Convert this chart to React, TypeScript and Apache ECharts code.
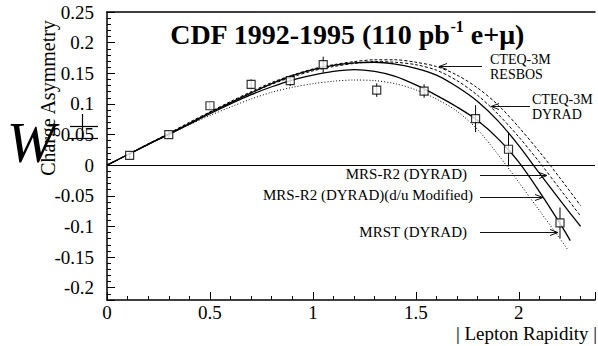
import React, { useEffect, useRef } from "react";
import * as echarts from "echarts";

const FONT = "'Liberation Serif', 'Times New Roman', Times, serif";

// measured points
const DATA_X = [0.11, 0.3, 0.5, 0.7, 0.89, 1.05, 1.31, 1.54, 1.79, 1.95, 2.2];
const DATA_Y = [0.016, 0.05, 0.097, 0.132, 0.138, 0.164, 0.1225, 0.121, 0.076, 0.026, -0.094];
const DATA_ERR = [0.005, 0.005, 0.006, 0.008, 0.009, 0.013, 0.011, 0.011, 0.022, 0.028, 0.025];

// theory curves sampled at CURVE_X, plus one end point each
const CURVE_X = [0, 0.1, 0.2, 0.3, 0.4, 0.5, 0.6, 0.7, 0.8, 0.9, 1.0, 1.1, 1.2, 1.3, 1.4, 1.5, 1.6, 1.7, 1.8, 1.9, 2.0, 2.1, 2.2];
const MRST = [0, 0.017, 0.034, 0.05, 0.066, 0.081, 0.095, 0.108, 0.119, 0.127, 0.133, 0.137, 0.139, 0.138, 0.133, 0.123, 0.108, 0.088, 0.058, 0.017, -0.028, -0.074, -0.12];
const MRST_END = [2.24, -0.139];
const MRSR2_DU = [0, 0.017, 0.034, 0.05, 0.067, 0.084, 0.1, 0.115, 0.128, 0.139, 0.147, 0.153, 0.156, 0.153, 0.145, 0.131, 0.114, 0.095, 0.073, 0.043, 0.005, -0.043, -0.095];
const MRSR2_DU_END = [2.25, -0.123];
const MRSR2 = [0, 0.017, 0.034, 0.051, 0.068, 0.086, 0.102, 0.118, 0.133, 0.146, 0.156, 0.163, 0.167, 0.168, 0.165, 0.158, 0.147, 0.128, 0.104, 0.072, 0.032, -0.013, -0.057];
const MRSR2_END = [2.3, -0.1];
const CTEQ_DYRAD = [0, 0.017, 0.034, 0.051, 0.068, 0.086, 0.102, 0.118, 0.132, 0.144, 0.154, 0.161, 0.166, 0.169, 0.168, 0.164, 0.155, 0.138, 0.114, 0.083, 0.046, 0.005, -0.039];
const CTEQ_DYRAD_END = [2.3, -0.083];
const CTEQ_RESBOS = [0, 0.017, 0.035, 0.052, 0.07, 0.087, 0.104, 0.12, 0.135, 0.147, 0.157, 0.164, 0.169, 0.172, 0.172, 0.168, 0.161, 0.147, 0.126, 0.098, 0.062, 0.022, -0.021];
const CTEQ_RESBOS_END = [2.3, -0.066];

const TITLE_MAIN = "CDF 1992-1995 (110 pb";
const TITLE_SUP = "-1";
const TITLE_END = " e+\u03bc)";

function curve(ys: number[], end: number[]) {
  const d = CURVE_X.map((x, i) => [x, ys[i]]);
  d.push(end);
  return d;
}

function arrow(x1: number, y: number, x2: number) {
  const d = x2 > x1 ? 1 : -1;
  return [
    { type: "line", shape: { x1, y1: y, x2, y2: y }, style: { stroke: "#111", lineWidth: 1 } },
    {
      type: "polyline",
      shape: { points: [[x2 - d * 8, y - 3], [x2, y], [x2 - d * 8, y + 3]] },
      style: { stroke: "#111", lineWidth: 1, fill: null },
    },
  ];
}

function label(text: string, x: number, y: number, align: string, size = 15) {
  return {
    type: "text",
    x,
    y,
    style: { text, fontFamily: FONT, fontSize: size, fill: "#000", align, verticalAlign: "middle" },
  };
}

export default function App() {
  const ref = useRef<HTMLDivElement>(null);
  useEffect(() => {
    if (!ref.current) return;
    const chart = echarts.init(ref.current, null, { renderer: "svg" });
    const axisLineStyle = { color: "#000", width: 1.5 };
    const lineBase = { type: "line", showSymbol: false, smooth: 0.3, silent: true, z: 3 };
    const option: any = {
      animation: false,
      grid: { left: 107, top: 12, width: 491, height: 288 },
      xAxis: [
        {
          type: "value",
          min: 0,
          max: 2.37,
          interval: 0.5,
          axisLine: { show: true, onZero: false, lineStyle: axisLineStyle },
          axisTick: { show: true, inside: true, length: 8, lineStyle: { color: "#000", width: 1 } },
          minorTick: { show: true, splitNumber: 5, length: 4, lineStyle: { color: "#000", width: 1 } },
          splitLine: { show: false },
          axisLabel: {
            margin: 3,
            fontSize: 19,
            fontFamily: FONT,
            color: "#000",
            formatter: (v: number) => (Math.abs(v * 2 - Math.round(v * 2)) < 1e-6 ? String(Number(v.toFixed(2))) : ""),
          },
        },
        {
          type: "value",
          position: "top",
          min: 0,
          max: 2.37,
          axisLine: { show: true, onZero: false, lineStyle: axisLineStyle },
          axisTick: { show: false },
          axisLabel: { show: false },
          splitLine: { show: false },
        },
      ],
      yAxis: {
        type: "value",
        min: -0.22,
        max: 0.25,
        splitNumber: 9,
        axisLine: { show: true, onZero: false, lineStyle: axisLineStyle },
        axisTick: { show: true, inside: true, length: 8, lineStyle: { color: "#000", width: 1 } },
        minorTick: { show: true, splitNumber: 5, length: 4, lineStyle: { color: "#000", width: 1 } },
        splitLine: { show: false },
        axisLabel: {
          margin: 13,
          fontSize: 19,
          fontFamily: FONT,
          color: "#000",
          formatter: (v: number) => (Math.abs(v * 20 - Math.round(v * 20)) < 1e-6 ? String(Number(v.toFixed(2))) : ""),
        },
      },
      series: [
        {
          ...lineBase,
          name: "MRST (DYRAD)",
          data: curve(MRST, MRST_END),
          lineStyle: { color: "#000", width: 1, type: [1, 2] },
          markLine: {
            silent: true,
            symbol: "none",
            label: { show: false },
            lineStyle: { color: "#000", width: 1, type: "solid" },
            data: [{ yAxis: 0 }],
          },
        },
        { ...lineBase, name: "MRS-R2 (DYRAD)(d/u Modified)", data: curve(MRSR2_DU, MRSR2_DU_END), lineStyle: { color: "#000", width: 1.3, type: "solid" } },
        { ...lineBase, name: "MRS-R2 (DYRAD)", data: curve(MRSR2, MRSR2_END), lineStyle: { color: "#000", width: 1.3, type: "solid" } },
        { ...lineBase, name: "CTEQ-3M DYRAD", data: curve(CTEQ_DYRAD, CTEQ_DYRAD_END), lineStyle: { color: "#000", width: 1, type: [3, 2] } },
        { ...lineBase, name: "CTEQ-3M RESBOS", data: curve(CTEQ_RESBOS, CTEQ_RESBOS_END), lineStyle: { color: "#000", width: 1, type: [3, 2] } },
        {
          type: "custom",
          name: "err",
          silent: true,
          z: 4,
          data: DATA_X.map((x, i) => [x, DATA_Y[i] - DATA_ERR[i], DATA_Y[i] + DATA_ERR[i]]),
          encode: { x: 0, y: [1, 2] },
          renderItem: (params: any, api: any) => {
            const p1 = api.coord([api.value(0), api.value(1)]);
            const p2 = api.coord([api.value(0), api.value(2)]);
            return { type: "line", shape: { x1: p1[0], y1: p1[1], x2: p2[0], y2: p2[1] }, style: { stroke: "#000", lineWidth: 1 } };
          },
        },
        {
          type: "scatter",
          name: "CDF data",
          silent: true,
          z: 5,
          symbol: "rect",
          symbolSize: 8,
          itemStyle: { color: "#fff", borderColor: "#000", borderWidth: 1.2 },
          data: DATA_X.map((x, i) => [x, DATA_Y[i]]),
        },
      ],
      graphic: [
        {
          type: "text",
          x: 347,
          y: 34,
          style: {
            text: `{a|${TITLE_MAIN}}{s|${TITLE_SUP}}{a|${TITLE_END}}`,
            align: "center",
            verticalAlign: "middle",
            rich: {
              a: { fontSize: 28, fontWeight: "bold", fontFamily: FONT, lineHeight: 32, fill: "#000" },
              s: { fontSize: 16, fontWeight: "bold", fontFamily: FONT, verticalAlign: "top", fill: "#000" },
            },
          },
        },
        {
          type: "text",
          x: 48,
          y: 98,
          rotation: Math.PI / 2,
          style: { text: "Charge Asymmetry", fontFamily: FONT, fontSize: 20, fill: "#000", align: "center", verticalAlign: "middle" },
        },
        {
          type: "text",
          x: 31,
          y: 142,
          style: { text: "W", fontFamily: FONT, fontSize: 58, fontStyle: "italic", fill: "#000", align: "center", verticalAlign: "middle" },
        },
        { type: "line", shape: { x1: 70, y1: 126.5, x2: 98, y2: 126.5 }, style: { stroke: "#000", lineWidth: 1.2 } },
        { type: "line", shape: { x1: 82.5, y1: 114, x2: 82.5, y2: 138 }, style: { stroke: "#000", lineWidth: 1.2 } },
        { type: "line", shape: { x1: 68, y1: 138.5, x2: 98, y2: 138.5 }, style: { stroke: "#000", lineWidth: 1.2 } },
        {
          type: "text",
          x: 597,
          y: 333,
          style: { text: "| Lepton Rapidity |", fontFamily: FONT, fontSize: 19, fill: "#000", align: "right", verticalAlign: "middle" },
        },
        label("CTEQ-3M", 490, 59, "left", 14),
        label("RESBOS", 490, 74, "left", 14),
        ...arrow(482, 66.5, 439),
        label("CTEQ-3M", 532, 99, "left", 14),
        label("DYRAD", 532, 114, "left", 14),
        ...arrow(530, 106.5, 491),
        label("MRS-R2 (DYRAD)", 467, 174, "right"),
        ...arrow(480, 175.5, 547),
        label("MRS-R2 (DYRAD)(d/u Modified)", 473, 195, "right"),
        ...arrow(480, 197.5, 543),
        label("MRST (DYRAD)", 467, 232, "right"),
        ...arrow(480, 232.5, 558),
      ],
    };
    chart.setOption(option);
    return () => chart.dispose();
  }, []);
  return <div ref={ref} style={{ position: "fixed", left: 0, top: 0, width: 598, height: 346, background: "#fff" }} />;
}
